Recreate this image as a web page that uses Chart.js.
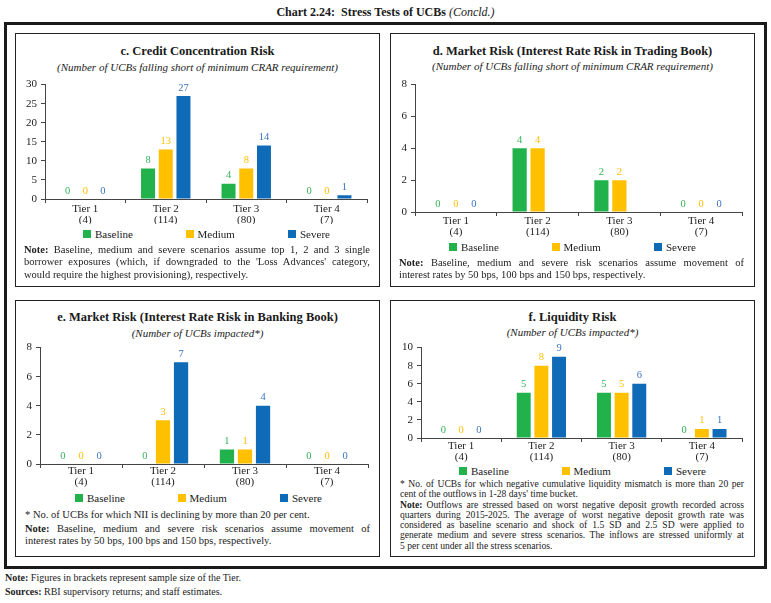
<!DOCTYPE html>
<html>
<head>
<meta charset="utf-8">
<script src="https://cdn.jsdelivr.net/npm/chart.js@4.4.1/dist/chart.umd.min.js"></script>
<style>
  html,body{margin:0;padding:0;background:#fff;}
  body{width:771px;height:603px;position:relative;overflow:hidden;font-family:"Liberation Serif","DejaVu Serif",serif;color:#222;}
  .abs{position:absolute;}
  .frame{position:absolute;left:4px;top:22px;width:757px;height:541px;border:3px solid #1a1a1a;}
  .panel{position:absolute;border:1px solid #222;box-sizing:border-box;}
  .ptitle{position:absolute;text-align:center;font-weight:bold;font-size:12.5px;color:#1a1a1a;white-space:nowrap;}
  .psub{position:absolute;text-align:center;font-style:italic;font-size:11px;color:#222;white-space:nowrap;}
  .legend{position:absolute;height:12px;font-size:11px;color:#222;}
  .legend .item{position:absolute;top:0;white-space:nowrap;line-height:12px;}
  .legend .sw{display:inline-block;width:8px;height:8px;margin-right:4px;vertical-align:-0px;}
  .notes{position:absolute;font-size:10.5px;line-height:12.3px;color:#222;}
  .notes .j{text-align:justify;text-align-last:justify;}
  .notes b{font-weight:bold;}
  .small{font-size:9.6px;line-height:10.3px;}
  canvas{position:absolute;}
</style>
</head>
<body>
<div class="abs" style="left:0;top:5px;width:771px;text-align:center;font-size:12px;color:#1a1a1a;white-space:nowrap;"><b>Chart 2.24:&nbsp; Stress Tests of UCBs</b> <i>(Concld.)</i></div>
<div class="frame"></div>

<div class="panel" style="left:15px;top:33px;width:365px;height:254px;"></div>
<div class="panel" style="left:390px;top:33px;width:365px;height:254px;"></div>
<div class="panel" style="left:15px;top:300px;width:365px;height:257px;"></div>
<div class="panel" style="left:390px;top:300px;width:365px;height:257px;"></div>

<div class="ptitle" style="left:15px;width:365px;top:44px;">c. Credit Concentration Risk</div>
<div class="psub" style="left:15px;width:365px;top:61px;">(Number of UCBs falling short of minimum CRAR requirement)</div>
<div class="ptitle" style="left:390px;width:365px;top:44px;">d. Market Risk (Interest Rate Risk in Trading Book)</div>
<div class="psub" style="left:390px;width:365px;top:60px;">(Number of UCBs falling short of minimum CRAR requirement)</div>
<div class="ptitle" style="left:15px;width:365px;top:310px;">e. Market Risk (Interest Rate Risk in Banking Book)</div>
<div class="psub" style="left:15px;width:365px;top:327px;">(Number of UCBs impacted*)</div>
<div class="ptitle" style="left:390px;width:365px;top:310px;">f. Liquidity Risk</div>
<div class="psub" style="left:390px;width:365px;top:326px;">(Number of UCBs impacted*)</div>

<canvas id="chartC" width="362" height="150" style="left:16px;top:74px;width:362px;height:150px;"></canvas>
<canvas id="chartD" width="362" height="163" style="left:391px;top:74px;width:362px;height:163px;"></canvas>
<canvas id="chartE" width="362" height="152" style="left:16px;top:337px;width:362px;height:152px;"></canvas>
<canvas id="chartF" width="362" height="126" style="left:391px;top:337px;width:362px;height:126px;"></canvas>

<div class="legend" id="legC" style="left:83px;top:228px;"></div>
<div class="legend" id="legD" style="left:449px;top:241px;"></div>
<div class="legend" id="legE" style="left:75px;top:492px;"></div>
<div class="legend" id="legF" style="left:459px;top:465px;"></div>

<div class="notes" style="left:24px;top:244px;width:346px;">
  <div class="j"><b>Note:</b> Baseline, medium and severe scenarios assume top 1, 2 and 3 single</div>
  <div class="j">borrower exposures (which, if downgraded to the 'Loss Advances' category,</div>
  <div>would require the highest provisioning), respectively.</div>
</div>
<div class="notes" style="left:399px;top:257px;width:345px;">
  <div class="j"><b>Note:</b> Baseline, medium and severe risk scenarios assume movement of</div>
  <div>interest rates by 50 bps, 100 bps and 150 bps, respectively.</div>
</div>
<div class="notes" style="left:25px;top:509px;width:345px;">
  <div style="margin-bottom:1.5px;">* No. of UCBs for which NII is declining by more than 20 per cent.</div>
  <div class="j"><b>Note:</b> Baseline, medium and severe risk scenarios assume movement of</div>
  <div>interest rates by 50 bps, 100 bps and 150 bps, respectively.</div>
</div>
<div class="notes small" style="left:400px;top:479px;width:344px;">
  <div class="j">* No. of UCBs for which negative cumulative liquidity mismatch is more than 20 per</div>
  <div>cent of the outflows in 1-28 days' time bucket.</div>
  <div class="j"><b>Note:</b> Outflows are stressed based on worst negative deposit growth recorded across</div>
  <div class="j">quarters during 2015-2025. The average of worst negative deposit growth rate was</div>
  <div class="j">considered as baseline scenario and shock of 1.5 SD and 2.5 SD were applied to</div>
  <div class="j">generate medium and severe stress scenarios. The inflows are stressed uniformly at</div>
  <div>5 per cent under all the stress scenarios.</div>
</div>

<div class="abs" style="left:5px;top:572px;font-size:10px;color:#222;white-space:nowrap;"><b>Note:</b> Figures in brackets represent sample size of the Tier.</div>
<div class="abs" style="left:5px;top:586px;font-size:10px;color:#222;white-space:nowrap;"><b>Sources:</b> RBI supervisory returns; and staff estimates.</div>

<script>
// ---- Data ----
const tierLabels = [['Tier 1', '(4)'], ['Tier 2', '(114)'], ['Tier 3', '(80)'], ['Tier 4', '(7)']];
const seriesNames = ['Baseline', 'Medium', 'Severe'];

const creditBaseline = [0, 8, 4, 0];
const creditMedium   = [0, 13, 8, 0];
const creditSevere   = [0, 27, 14, 1];
const creditTicks    = [0, 5, 10, 15, 20, 25, 30];

const tradingBaseline = [0, 4, 2, 0];
const tradingMedium   = [0, 4, 2, 0];
const tradingSevere   = [0, null, null, 0];
const tradingTicks    = [0, 2, 4, 6, 8];

const bankingBaseline = [0, 0, 1, 0];
const bankingMedium   = [0, 3, 1, 0];
const bankingSevere   = [0, 7, 4, 0];
const bankingTicks    = [0, 2, 4, 6, 8];

const liquidityBaseline = [0, 5, 5, 0];
const liquidityMedium   = [0, 8, 5, 1];
const liquiditySevere   = [0, 9, 6, 1];
const liquidityTicks    = [0, 2, 4, 6, 8, 10];

// ---- Styles ----
const barColors   = ['#21b24b', '#ffc000', '#0f6ab8'];
const labelColors = ['#35b35a', '#ffbf00', '#3b74bd'];
const FONT = '"Liberation Serif", "DejaVu Serif", serif';

const valueLabels = {
  id: 'valueLabels',
  afterDatasetsDraw(chart) {
    const ctx = chart.ctx;
    ctx.save();
    ctx.font = '10.5px ' + FONT;
    ctx.textAlign = 'center';
    ctx.textBaseline = 'bottom';
    chart.data.datasets.forEach((ds, i) => {
      const meta = chart.getDatasetMeta(i);
      meta.data.forEach((el, j) => {
        const v = ds.data[j];
        if (v === null || v === undefined) return;
        ctx.fillStyle = labelColors[i];
        ctx.fillText(String(v), el.x, el.y - 3);
      });
    });
    ctx.restore();
  }
};

function makeChart(id, series, ticks, yWidth, padRight, xPad) {
  const maxVal = ticks[ticks.length - 1];
  const step = ticks[1] - ticks[0];
  return new Chart(document.getElementById(id), {
    type: 'bar',
    data: {
      labels: tierLabels,
      datasets: series.map((d, i) => ({
        label: seriesNames[i],
        data: d,
        backgroundColor: barColors[i],
        borderColor: 'rgba(255,255,255,0.35)',
        borderWidth: 0,
        categoryPercentage: 0.66,
        barPercentage: 0.79
      }))
    },
    options: {
      responsive: false,
      animation: false,
      devicePixelRatio: 1,
      layout: { padding: { left: 0, right: padRight, top: 7, bottom: 0 } },
      plugins: { legend: { display: false }, tooltip: { enabled: false }, title: { display: false } },
      scales: {
        x: {
          offset: true,
          grid: { display: true, drawOnChartArea: false, drawTicks: true, tickLength: 4, color: '#444', offset: true },
          border: { display: true, color: '#444', width: 1 },
          ticks: { color: '#222', font: { family: FONT, size: 11, lineHeight: 0.95 }, padding: xPad, maxRotation: 0, autoSkip: false },
          afterFit(scale) { scale.height = 25; }
        },
        y: {
          min: 0, max: maxVal,
          grid: { display: true, drawOnChartArea: false, drawTicks: true, tickLength: 4, color: '#444' },
          border: { display: true, color: '#444', width: 1 },
          ticks: { stepSize: step, color: '#222', font: { family: FONT, size: 11 }, padding: 4 },
          afterFit(scale) { scale.width = yWidth; }
        }
      }
    },
    plugins: [valueLabels]
  });
}

makeChart('chartC', [creditBaseline, creditMedium, creditSevere], creditTicks, 29, 11, 1);
makeChart('chartD', [tradingBaseline, tradingMedium, tradingSevere], tradingTicks, 24, 11, 0);
makeChart('chartE', [bankingBaseline, bankingMedium, bankingSevere], bankingTicks, 24, 10, -2);
makeChart('chartF', [liquidityBaseline, liquidityMedium, liquiditySevere], liquidityTicks, 30, 11, -1);

function buildLegend(id) {
  const el = document.getElementById(id);
  seriesNames.forEach((name, i) => {
    const item = document.createElement('div');
    item.className = 'item';
    item.style.left = (i * 102.5) + 'px';
    const sw = document.createElement('span');
    sw.className = 'sw';
    sw.style.background = barColors[i];
    item.appendChild(sw);
    item.appendChild(document.createTextNode(name));
    el.appendChild(item);
  });
}
['legC', 'legD', 'legE', 'legF'].forEach(buildLegend);
</script>
</body>
</html>
